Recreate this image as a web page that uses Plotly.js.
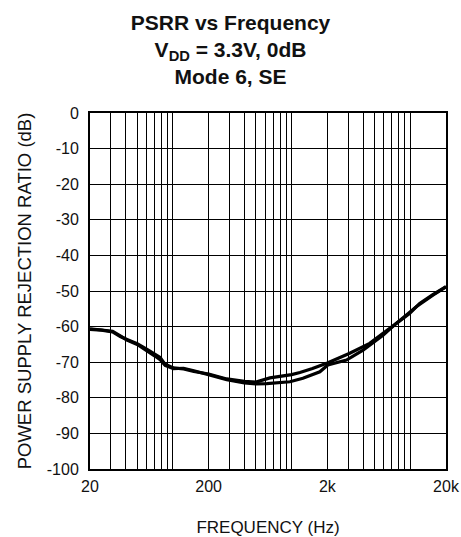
<!DOCTYPE html>
<html>
<head>
<meta charset="utf-8">
<script src="https://cdn.plot.ly/plotly-3.0.1.min.js"></script>
<style>html,body{margin:0;padding:0;background:#fff;}#chart{width:461px;height:537px;}</style>
</head>
<body>
<div id="chart"></div>
<script>
// Curve 1 (upper through the mid band)
var freqA = [20, 25, 31, 36, 41, 50, 61, 70, 78, 86, 101, 123, 150, 200, 284, 400, 500, 657, 800, 1000, 1175, 1500, 2000, 3090, 4550, 6700, 9860, 12000, 15500, 20000];
var psrrA = [-60.8, -61.0, -61.5, -62.8, -63.6, -64.8, -66.5, -67.6, -68.7, -70.6, -71.6, -71.9, -72.6, -73.3, -74.7, -75.4, -75.6, -74.4, -74.0, -73.5, -72.9, -71.8, -70.2, -67.5, -64.7, -60.5, -56.3, -53.5, -51.0, -48.8];
// Curve 2 (lower through the mid band)
var freqB = [20, 25, 31, 36, 41, 50, 61, 70, 78, 86, 101, 123, 150, 200, 284, 400, 500, 617, 800, 968, 1245, 1730, 2020, 2900, 4000, 5890, 7620, 9000, 11240, 15500, 20000];
var psrrB = [-60.6, -60.9, -61.3, -62.6, -63.8, -65.0, -66.8, -68.2, -69.3, -70.9, -71.8, -71.7, -72.4, -73.5, -74.9, -75.8, -76.1, -76.0, -75.7, -75.5, -74.5, -72.7, -70.8, -69.4, -66.6, -62.4, -59.1, -57.2, -54.4, -51.2, -48.8];

// X axis labelled ticks and minor grid positions
var xTicks = [20, 200, 2000, 20000];
var xLabels = ['20', '200', '2k', '20k'];
var xMinor = [30, 40, 50, 60, 70, 80, 90, 100, 300, 400, 500, 600, 700, 800, 900, 1000, 3000, 4000, 5000, 6000, 7000, 8000, 9000, 10000];
var yTicks = [0, -10, -20, -30, -40, -50, -60, -70, -80, -90, -100];
var yLabels = ['0', '-10', '-20', '-30', '-40', '-50', '-60', '-70', '-80', '-90', '-100'];

var FONT = 'Liberation Sans, Arial, Helvetica, sans-serif';

var traces = [
  {x: freqA, y: psrrA, type: 'scatter', mode: 'lines', line: {color: '#000', width: 3.2}, hoverinfo: 'skip'},
  {x: freqB, y: psrrB, type: 'scatter', mode: 'lines', line: {color: '#000', width: 3.2}, hoverinfo: 'skip'}
];

var layout = {
  width: 461, height: 537,
  margin: {l: 90, r: 15, t: 113, b: 68},
  paper_bgcolor: '#fff', plot_bgcolor: '#fff',
  showlegend: false,
  font: {family: FONT, color: '#000', size: 16},
  title: {
    text: '<b>PSRR vs Frequency</b><br><b>V<sub>DD</sub> = 3.3V, 0dB</b><br><b>Mode 6, SE</b>',
    font: {family: FONT, size: 21, color: '#111'},
    x: 0.5, xref: 'container', xanchor: 'center',
    y: 0.945, yref: 'container', yanchor: 'top'
  },
  xaxis: {
    type: 'log',
    range: [Math.log10(20), Math.log10(20000)],
    tickmode: 'array', tickvals: xTicks, ticktext: xLabels,
    showgrid: true, gridcolor: '#000', gridwidth: 1,
    minor: {tickmode: 'array', tickvals: xMinor, showgrid: true, gridcolor: '#000', gridwidth: 1, ticks: ''},
    showline: true, linecolor: '#000', linewidth: 2, mirror: true,
    ticks: '', zeroline: false,
    ticklabelstandoff: 2,
    tickfont: {family: FONT, size: 16, color: '#111'},
    title: {text: 'FREQUENCY (Hz)', font: {family: FONT, size: 17, color: '#111'}, standoff: 28},
    automargin: false
  },
  yaxis: {
    range: [-100, 0],
    tickmode: 'array', tickvals: yTicks, ticktext: yLabels,
    showgrid: true, gridcolor: '#000', gridwidth: 1,
    showline: true, linecolor: '#000', linewidth: 2, mirror: true,
    ticks: '', zeroline: false,
    ticklabelstandoff: 6,
    tickfont: {family: FONT, size: 16, color: '#111'},
    title: {text: 'POWER SUPPLY REJECTION RATIO (dB)', font: {family: FONT, size: 18.5, color: '#111'}, standoff: 10},
    automargin: false
  }
};

Plotly.newPlot('chart', traces, layout, {displayModeBar: false, staticPlot: true});
</script>
</body>
</html>
